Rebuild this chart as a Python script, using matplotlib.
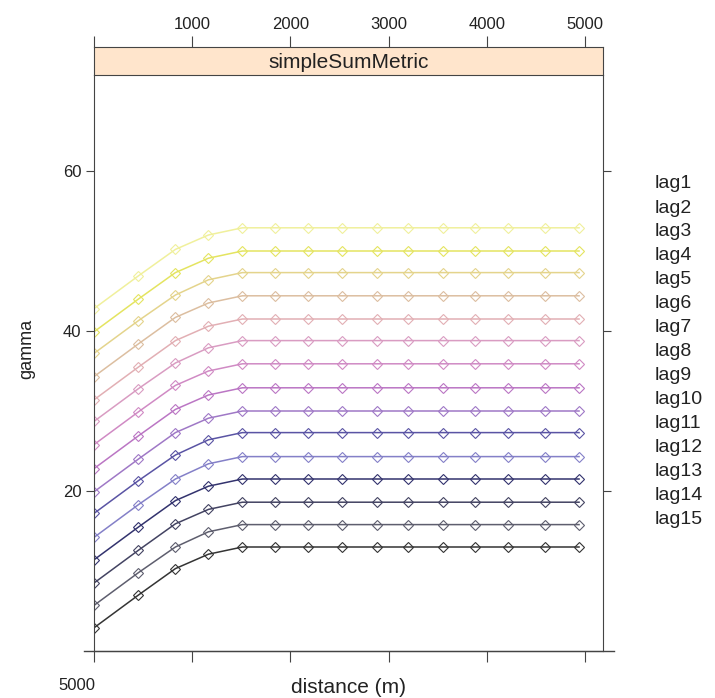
import matplotlib.pyplot as plt

plt.rcParams["font.family"] = ["Liberation Sans", "DejaVu Sans"]

# distance bins (m)
distance = [0, 453, 829, 1165, 1511, 1846, 2182, 2528, 2884, 3200,
            3555, 3881, 4217, 4593, 4939]

# semivariance per lag, top line first
lag1 = [42.8, 46.9, 50.2, 52.0] + [52.9] * 11
lag2 = [39.9, 44.0, 47.3, 49.1] + [50.0] * 11
lag3 = [37.2, 41.3, 44.5, 46.4] + [47.3] * 11
lag4 = [34.3, 38.4, 41.7, 43.5] + [44.4] * 11
lag5 = [31.4, 35.5, 38.8, 40.6] + [41.5] * 11
lag6 = [28.7, 32.8, 36.0, 37.9] + [38.8] * 11
lag7 = [25.8, 29.9, 33.2, 35.0] + [35.9] * 11
lag8 = [22.8, 26.9, 30.2, 32.0] + [32.9] * 11
lag9 = [19.9, 24.0, 27.3, 29.1] + [30.0] * 11
lag10 = [17.2, 21.3, 24.5, 26.4] + [27.3] * 11
lag11 = [14.2, 18.3, 21.5, 23.4] + [24.3] * 11
lag12 = [11.4, 15.5, 18.8, 20.6] + [21.5] * 11
lag13 = [8.5, 12.6, 15.9, 17.7] + [18.6] * 11
lag14 = [5.7, 9.8, 13.0, 14.9] + [15.8] * 11
lag15 = [2.9, 7.0, 10.3, 12.1] + [13.0] * 11

lags = [lag1, lag2, lag3, lag4, lag5, lag6, lag7, lag8, lag9, lag10,
        lag11, lag12, lag13, lag14, lag15]
lag_names = ["lag%d" % (i + 1) for i in range(15)]

colors = ["#f0f09c", "#e4e460", "#e4d48c", "#dcbea0", "#e2afb4",
          "#d99cc2", "#d08ac4", "#bb76c4", "#9f78c6", "#5a54a4",
          "#8480c8", "#33336e", "#434362", "#5e5e6e", "#343434"]

x_ticks = [0, 1000, 2000, 3000, 4000, 5000]
top_labels = ["", "1000", "2000", "3000", "4000", "5000"]
y_ticks = [20, 40, 60]

W, H = 715, 698
fig = plt.figure(figsize=(W / 100, H / 100), dpi=100)

left, right, bottom, top, strip_top = 94, 603, 651, 75, 47
ax = fig.add_axes([left / W, 1 - bottom / H, (right - left) / W, (bottom - top) / H])
strip = fig.add_axes([left / W, 1 - top / H, (right - left) / W, (top - strip_top) / H])

edge = "#444444"
for i, vals in enumerate(lags):
    ax.plot(distance, vals, color=colors[i], linewidth=1.1, marker="D",
            markersize=5, markerfacecolor="none", markeredgewidth=0.8)

ax.set_xlim(0, 5183)
ax.set_ylim(0, 72)
ax.set_yticks(y_ticks)
ax.set_yticklabels([str(v) for v in y_ticks], fontsize=12, color="#222222")
ax.set_xticks(x_ticks)
ax.set_xticklabels([""] * len(x_ticks))
ax.tick_params(axis="y", left=True, right=True, labelleft=True, labelright=False,
               direction="out", length=6, color=edge, pad=3)
ax.tick_params(axis="x", bottom=True, top=False, direction="out", length=8, color=edge)
for s in ax.spines.values():
    s.set_color(edge)
ax.spines["top"].set_visible(False)
# bottom axis line runs a little past the panel, as in lattice
ax.plot([-0.02, 1.022], [0, 0], transform=ax.transAxes, color=edge,
        linewidth=1.0, clip_on=False)
fig.text(95 / W, 1 - 686 / H, "5000", ha="right", va="center",
         fontsize=12, color="#222222")
ax.set_xlabel("distance (m)", fontsize=15, color="#222222", labelpad=8)
fig.text(27 / W, 1 - 349 / H, "gamma", rotation=90, ha="center", va="center",
         fontsize=13, color="#222222")

strip.set_facecolor("#ffe5cc")
strip.set_xlim(0, 5183)
strip.set_ylim(0, 1)
strip.set_yticks([])
strip.xaxis.tick_top()
strip.set_xticks(x_ticks)
strip.set_xticklabels(top_labels, fontsize=12, color="#222222")
strip.tick_params(axis="x", direction="out", length=8, color=edge, pad=3)
for s in strip.spines.values():
    s.set_color(edge)
strip.text(0.5, 0.45, "simpleSumMetric", transform=strip.transAxes,
           ha="center", va="center", fontsize=15, color="#222222")

for i, name in enumerate(lag_names):
    fig.text(655 / W, 1 - (184 + 24 * i) / H, name, ha="left", va="center",
             fontsize=14, color="#222222")

plt.savefig("out.png", dpi=100)
plt.close(fig)
